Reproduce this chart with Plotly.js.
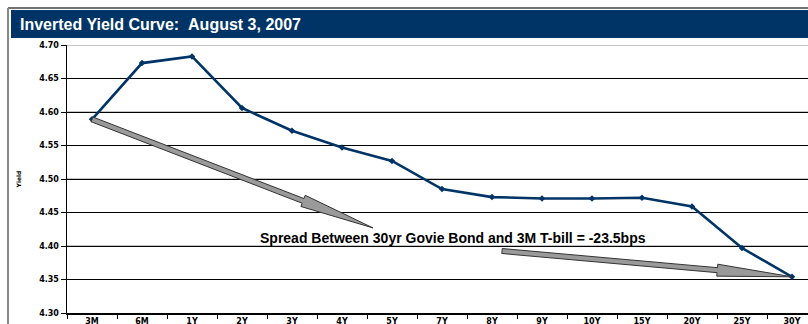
<!DOCTYPE html>
<html>
<head>
<meta charset="utf-8">
<script src="https://cdn.plot.ly/plotly-3.0.1.min.js"></script>
<style>
html,body{margin:0;padding:0;overflow:hidden;background:#fff;}
#chart{position:absolute;left:0;top:0;}
</style>
</head>
<body>
<div id="chart"></div>
<script>
// ---- data ----
var maturities = ["3M","6M","1Y","2Y","3Y","4Y","5Y","7Y","8Y","9Y","10Y","15Y","20Y","25Y","30Y"];
var yields = [4.589,4.673,4.683,4.606,4.572,4.547,4.527,4.485,4.473,4.471,4.471,4.472,4.459,4.397,4.354];
var yTicks = [4.30,4.35,4.40,4.45,4.50,4.55,4.60,4.65,4.70];
var titleText = "Inverted Yield Curve: \u00a0August 3, 2007";
var noteText = "Spread Between 30yr Govie Bond and 3M T-bill = -23.5bps";

// ---- layout geometry ----
var W = 830, H = 345;
var M = {l:67, r:13, t:45, b:32};
var PW = W - M.l - M.r, PH = H - M.t - M.b;
var yMin = 4.30, yMax = 4.70;
var nCat = maturities.length;

// pixel -> paper helpers
function pxX(x){ return (x - M.l) / PW; }
function pxY(y){ return (M.t + PH - y) / PH; }
// data -> pixel helpers (category index, value)
function dX(i){ return M.l + (i + 0.5) / nCat * PW; }
function dY(v){ return M.t + PH - (v - yMin) / (yMax - yMin) * PH; }

function arrowPath(x0, y0, x1, y1, shaftHW, headHW, headLen){
  var dx = x1 - x0, dy = y1 - y0, len = Math.sqrt(dx*dx + dy*dy);
  var ux = dx/len, uy = dy/len, nx = -uy, ny = ux;
  var bx = x1 - ux*headLen, by = y1 - uy*headLen;
  var pts = [
    [x0 + nx*shaftHW, y0 + ny*shaftHW],
    [bx + nx*shaftHW, by + ny*shaftHW],
    [bx + nx*headHW, by + ny*headHW],
    [x1, y1],
    [bx - nx*headHW, by - ny*headHW],
    [bx - nx*shaftHW, by - ny*shaftHW],
    [x0 - nx*shaftHW, y0 - ny*shaftHW]
  ];
  return pts.map(function(p, k){ return (k ? 'L' : 'M') + pxX(p[0]).toFixed(5) + ',' + pxY(p[1]).toFixed(5); }).join(' ') + ' Z';
}

var first = 0, last = nCat - 1;
var arrow1 = arrowPath(dX(first), dY(yields[first]), dX(5.62), dY(4.427), 2.5, 6, 75);
var arrow2 = arrowPath(dX(8.2), dY(4.3925), dX(last), dY(yields[last]), 2.5, 6, 75);

var shapes = [
  // frame
  {type:'line', xref:'paper', yref:'paper', x0:pxX(8), x1:pxX(830), y0:pxY(8), y1:pxY(8), line:{color:'#444', width:1.5}},
  {type:'line', xref:'paper', yref:'paper', x0:pxX(8), x1:pxX(8), y0:pxY(8), y1:pxY(345), line:{color:'#888', width:2}},
  // title bar
  {type:'rect', xref:'paper', yref:'paper', x0:pxX(11), x1:pxX(830), y0:pxY(10), y1:pxY(38), fillcolor:'#003466', line:{width:0}},
  // arrows
  {type:'path', xref:'paper', yref:'paper', path:arrow1, fillcolor:'#9a9a9a', line:{color:'#333', width:1}, layer:'above'},
  {type:'path', xref:'paper', yref:'paper', path:arrow2, fillcolor:'#9a9a9a', line:{color:'#333', width:1}, layer:'above'}
];
// lighter gridlines on every other level
yTicks.forEach(function(v, k){
  if (k % 2 === 0 && k > 0) {
    shapes.push({type:'line', xref:'paper', yref:'y', x0:0, x1:1, y0:v, y1:v, line:{color:'#8a8a8a', width:1}, layer:'between'});
  }
});

var trace = {
  x: maturities,
  y: yields,
  type: 'scatter',
  mode: 'lines+markers',
  line: {color:'#003466', width:2.6},
  marker: {symbol:'diamond', size:5, color:'#003466'},
  hoverinfo: 'skip'
};

var tickFont = {family:'DejaVu Sans, Arial, sans-serif', size:8, color:'#000', weight:700};

var layout = {
  width: W, height: H,
  margin: M,
  paper_bgcolor: '#fff',
  plot_bgcolor: '#fff',
  showlegend: false,
  title: {
    text: titleText,
    font: {family:'Liberation Sans, Arial, sans-serif', size:16, color:'#fff', weight:700},
    xref:'container', yref:'container',
    x: 20 / W, xanchor: 'left',
    y: 1 - 24.5 / H, yanchor: 'middle'
  },
  xaxis: {
    type: 'category',
    range: [-0.5, nCat - 0.5],
    tickson: 'boundaries',
    ticks: 'outside', ticklen: 4, tickcolor: '#000', tickwidth: 1,
    showline: true, linecolor: '#000', linewidth: 1.5,
    showgrid: false, zeroline: false,
    tickfont: tickFont,
    automargin: false, fixedrange: true
  },
  yaxis: {
    range: [yMin, yMax],
    tickmode: 'array', tickvals: yTicks,
    ticktext: yTicks.map(function(v){ return v.toFixed(2); }),
    ticks: 'outside', ticklen: 5, tickcolor: '#000', tickwidth: 1,
    showline: true, linecolor: '#000', linewidth: 1.5,
    showgrid: true, gridcolor: '#000', gridwidth: 1,
    zeroline: false,
    tickfont: tickFont,
    title: {text:'Yield', font:{family:'DejaVu Sans, Arial, sans-serif', size:6, color:'#000', weight:700}, standoff: 17},
    automargin: false, fixedrange: true
  },
  shapes: shapes,
  annotations: [{
    text: noteText,
    xref:'paper', yref:'paper',
    x: pxX(453), y: pxY(238),
    xanchor:'center', yanchor:'middle',
    showarrow: false,
    font: {family:'Liberation Sans, Arial, sans-serif', size:14, color:'#000', weight:700}
  }]
};

Plotly.newPlot('chart', [trace], layout, {staticPlot:true, displayModeBar:false});
</script>
</body>
</html>
